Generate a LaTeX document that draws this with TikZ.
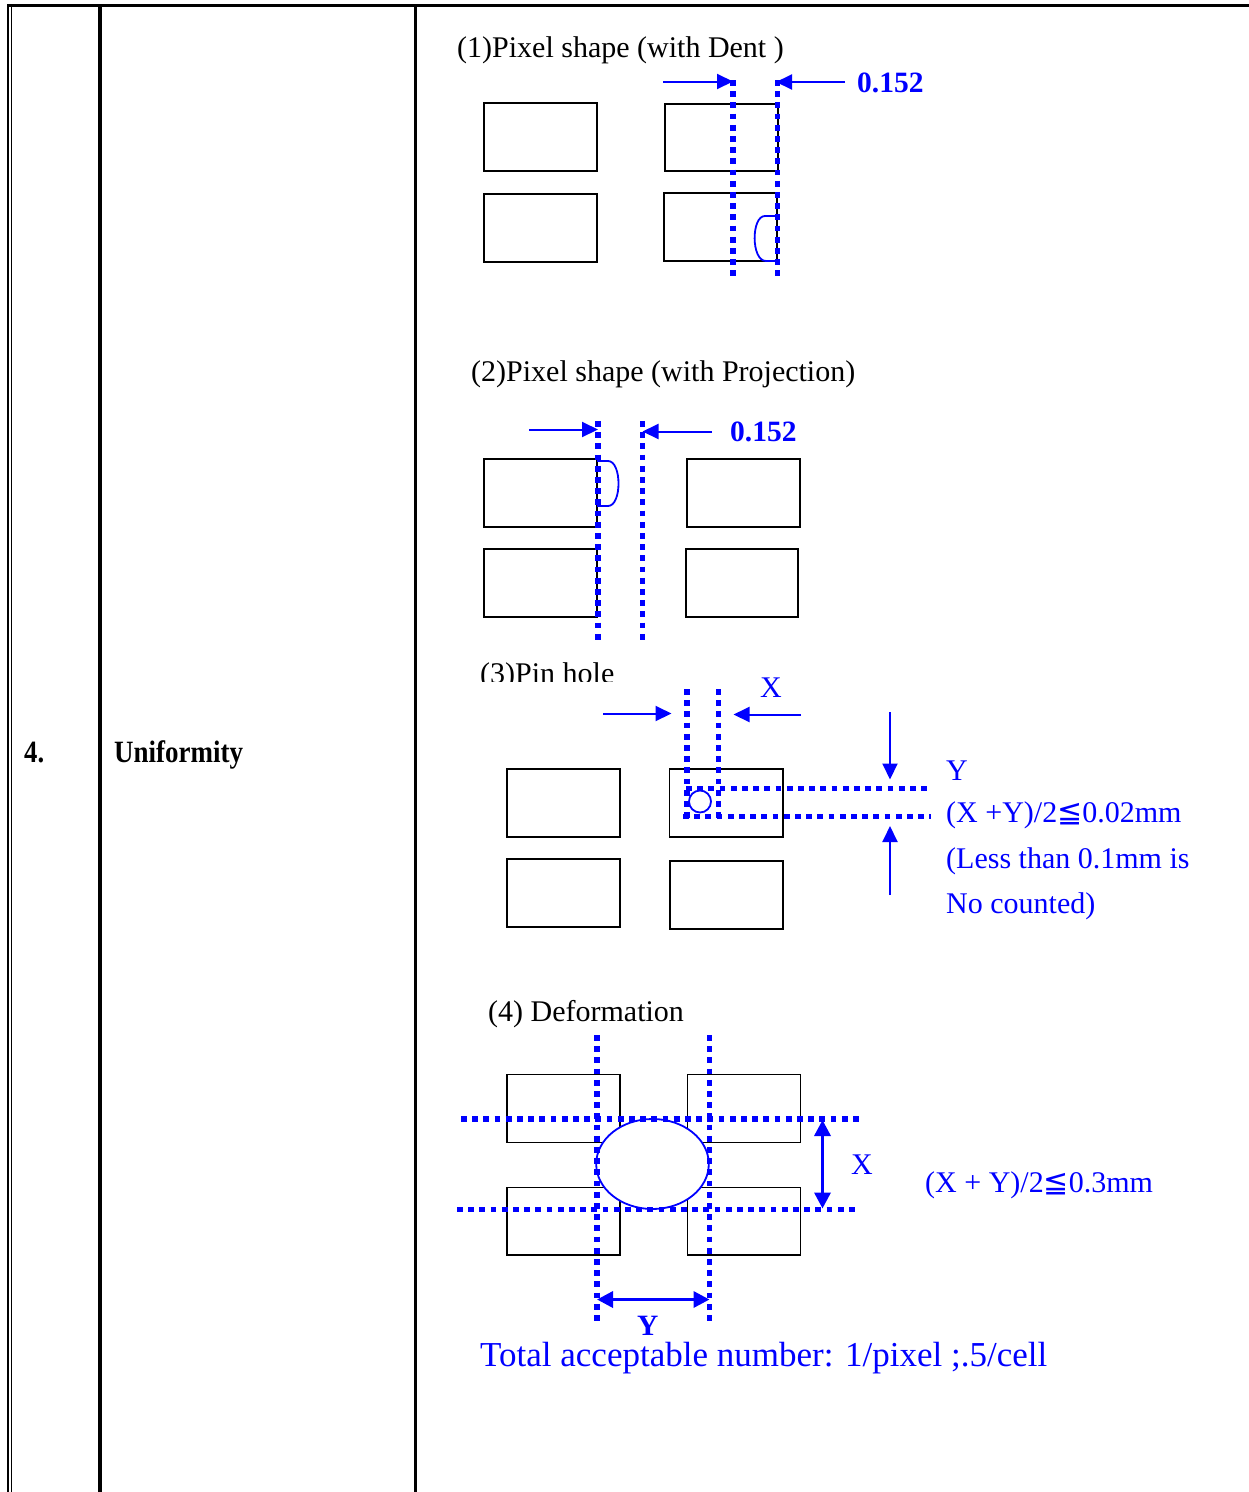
\documentclass[tikz,border=0pt]{standalone}
\usepackage{fontspec}
\usepackage{graphicx}
\setmainfont{Liberation Serif}
\newfontfamily\djv{DejaVu Sans}
\usetikzlibrary{arrows.meta}
\definecolor{pblue}{RGB}{0,0,255}
\tikzset{
  pix/.style={draw=black, line width=1.8pt},
  dotl/.style={draw=pblue, line width=5.5pt, dash pattern=on 5.8pt off 5.4pt},
  bshape/.style={draw=pblue, line width=1.8pt},
  thinarr/.style={draw=pblue, line width=2pt, -{Triangle[length=16pt,width=15pt]}},
  dblarr/.style={draw=pblue, line width=3.4pt, {Triangle[length=16pt,width=16pt]}-{Triangle[length=16pt,width=16pt]}},
  blk/.style={inner sep=0pt, anchor=base west, font=\fontsize{30}{36}\selectfont},
  bl/.style={blk, text=pblue},
  blb/.style={blk, text=pblue, font=\bfseries\fontsize{29.5}{36}\selectfont},
  frame/.style={draw=black, line cap=butt}
}
\begin{document}
\begin{tikzpicture}[x=1pt,y=-1pt]
\useasboundingbox (0,0) rectangle (1249,1492);
% table frame
\draw[frame, line width=3.4pt] (7,5.5) -- (1249,5.5);
\draw[frame, line width=2.2pt] (8,4) -- (8,1492);
\draw[frame, line width=1.2pt] (11.5,7) -- (11.5,1492);
\draw[frame, line width=3.5pt] (100,4) -- (100,1492);
\draw[frame, line width=3.5pt] (415.5,4) -- (415.5,1492);
\node[blk, font=\bfseries\fontsize{31}{36}\selectfont] (num) at (24,762) {\scalebox{0.86}[1]{4.}};
\node[blk, font=\bfseries\fontsize{31}{36}\selectfont] (uni) at (114,762) {\scalebox{0.87}[1]{Uniformity}};

% (1) Dent
\node[blk] (t1) at (457,57) {(1)Pixel shape (with Dent )};
\draw[pix] (484,103) rectangle (597,171);
\draw[pix] (484,194) rectangle (597,262);
\draw[pix] (665,104) rectangle (778,171);
\draw[pix] (664,193) rectangle (777,261);
\draw[bshape] (777,216) -- (765,216) .. controls (751,216) and (751,261) .. (766,261) -- (777,261);
\draw[dotl] (733,80) -- (733,279);
\draw[dotl] (777.5,80) -- (777.5,279);
\draw[thinarr] (663,81.5) -- (733,81.5);
\draw[thinarr] (845,82) -- (776,82);
\node[blb] (v1) at (857,92) {0.152};

% (2) Projection
\node[blk] (t2) at (471,381) {(2)Pixel shape (with Projection)};
\draw[pix] (484,459) rectangle (597,527);
\draw[pix] (484,549) rectangle (597,617);
\draw[pix] (687,459) rectangle (800,527);
\draw[pix] (686,549) rectangle (798,617);
\draw[bshape] (597,461) -- (608,461) .. controls (622,461) and (622,506) .. (608,506) -- (597,506);
\draw[dotl] (598,421) -- (598,642);
\draw[dotl] (642.5,421) -- (642.5,640);
\draw[thinarr] (529,429.5) -- (598,429.5);
\draw[thinarr] (712,431.5) -- (642.5,431.5);
\node[blb] (v2) at (730,441) {0.152};

% (3) Pin hole
\begin{scope}
\clip (470,650) rectangle (650,681.5);
\node[blk] (t3) at (480,683) {(3)Pin hole};
\end{scope}
\draw[pix] (507,769) rectangle (620,837);
\draw[pix] (507,859) rectangle (620,927);
\draw[pix] (669.5,769) rectangle (783,837);
\draw[pix] (670,861) rectangle (783,929);
\draw[bshape] (700,801.5) circle[radius=11pt];
\draw[dotl] (687,689) -- (687,819);
\draw[dotl] (718.5,689) -- (718.5,819);
\draw[dotl] (686,788.5) -- (931,788.5);
\draw[dotl] (683,816.5) -- (931,816.5);
\draw[thinarr] (603,713.5) -- (671.5,713.5);
\draw[thinarr] (801,714.5) -- (733.5,714.5);
\draw[thinarr] (890,712) -- (890,779.5);
\draw[thinarr] (890,895) -- (890,826);
\node[bl] (x3) at (760,697) {X};
\node[bl] (y3) at (946,780) {Y};
\node[bl] (f3) at (946,822) {(X +Y)/2{\djv ≦}0.02mm};
\node[bl] (l3) at (946,868) {(Less than 0.1mm is};
\node[bl] (n3) at (946,913) {No counted)};

% (4) Deformation
\node[blk] (t4) at (488,1021) {(4) Deformation};
\draw[pix] (507,1074.5) rectangle (620,1142.5);
\draw[pix] (687.5,1074.5) rectangle (800.5,1142.5);
\draw[pix] (507,1187.5) rectangle (620,1255);
\draw[pix] (687.5,1187.5) rectangle (800.5,1255);
\draw[bshape, fill=white] (652.5,1164) ellipse [x radius=56.3pt, y radius=45pt];
\draw[dotl] (597,1035) -- (597,1323);
\draw[dotl] (709.5,1035) -- (709.5,1323);
\draw[dotl] (461,1119) -- (863,1119);
\draw[dotl] (457,1209.5) -- (858,1209.5);
\draw[dblarr] (822.5,1120) -- (822.5,1208.5);
\draw[dblarr] (597,1299.5) -- (709.5,1299.5);
\node[bl] (x4) at (851,1174.5) {X};
\node[bl] (f4) at (925,1192) {(X + Y)/2{\djv ≦}0.3mm};
\node[blb, text depth=0pt] (y4) at (637,1335) {Y};
\node[bl, font=\fontsize{35}{40}\selectfont, text height=24pt] (tot) at (480,1366) {Total acceptable number: 1/pixel ;.5/cell};
\end{tikzpicture}
\end{document}
